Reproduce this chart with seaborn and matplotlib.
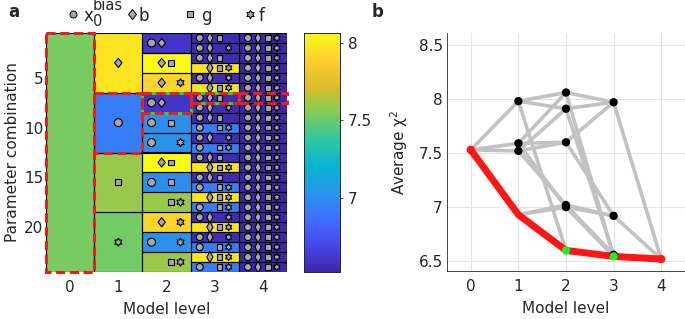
import itertools
import numpy as np
import pandas as pd
import matplotlib
matplotlib.use("Agg")
import matplotlib.pyplot as plt
import seaborn as sns
from matplotlib.colors import LinearSegmentedColormap
from matplotlib.patches import Rectangle
from matplotlib.lines import Line2D
from matplotlib.markers import MarkerStyle
from matplotlib.transforms import Affine2D

# ---------------- data ----------------
params = ["x0", "b", "g", "f"]
expand_order = ["b", "x0", "g", "f"]
level0_sets = [""]
level0_chi2 = [7.53]
level1_sets = ["x0", "b", "g", "f"]
level1_chi2 = [6.93, 7.98, 7.59, 7.52]
level2_sets = ["x0,b", "x0,g", "x0,f", "b,g", "b,f", "g,f"]
level2_chi2 = [6.60, 7.00, 7.02, 8.06, 7.91, 7.60]
level3_sets = ["x0,b,g", "x0,b,f", "x0,g,f", "b,g,f"]
level3_chi2 = [6.545, 6.56, 6.92, 7.97]
level4_sets = ["x0,b,g,f"]
level4_chi2 = [6.52]
legend_labels = ["x", "b", "g", "f"]
legend_sup = ["bias", "", "", ""]
legend_sub = ["0", "", "", ""]
level_ticks = [0, 1, 2, 3, 4]
a_yticks = [5, 10, 15, 20]
cbar_ticks = [7, 7.5, 8]
cbar_ticklabels = ["7", "7.5", "8"]
b_yticks = [6.5, 7, 7.5, 8, 8.5]
b_yticklabels = ["6.5", "7", "7.5", "8", "8.5"]

# ---------------- helpers ----------------
def key(s):
    return frozenset(s.split(",")) if s else frozenset()

chi = {}
for sets, vals in [(level0_sets, level0_chi2), (level1_sets, level1_chi2),
                   (level2_sets, level2_chi2), (level3_sets, level3_chi2),
                   (level4_sets, level4_chi2)]:
    for s, v in zip(sets, vals):
        chi[key(s)] = v

perms = list(itertools.permutations(expand_order))
M = np.array([[chi[frozenset(p[:L])] for L in range(5)] for p in perms])

# greedy best path
best = []
cur = frozenset()
for L in range(1, 5):
    cands = [p for p in params if p not in cur]
    nxt = min(cands, key=lambda p: chi[cur | {p}])
    best.append(nxt)
    cur = cur | {nxt}
best = tuple(best)

parula = LinearSegmentedColormap.from_list("parula", [
    (0.2422, 0.1504, 0.6603), (0.2803, 0.2782, 0.9221), (0.2440, 0.4358, 0.9988),
    (0.1540, 0.5902, 0.9218), (0.0297, 0.7082, 0.8163), (0.1938, 0.7758, 0.6251),
    (0.5044, 0.7993, 0.3480), (0.8634, 0.7406, 0.1596), (0.9892, 0.8136, 0.1885),
    (0.9769, 0.9839, 0.0805)])

sns.set_style("white")
plt.rcParams["font.family"] = ["DejaVu Sans"]
txt = "#262626"
FS = 11

fig = plt.figure(figsize=(6.85, 3.19), dpi=100)
W, H = 685, 319
def axbox(l, t, r, b):
    return [l / W, 1 - b / H, (r - l) / W, (b - t) / H]

axA = fig.add_axes(axbox(46, 33, 287, 272))
cax = fig.add_axes(axbox(304, 33, 340, 272))
axB = fig.add_axes(axbox(447, 33, 685, 271))

vmin, vmax = 6.52, 8.065
sns.heatmap(M, ax=axA, cmap=parula, vmin=vmin, vmax=vmax, cbar_ax=cax,
            xticklabels=False, yticklabels=False, linewidths=0)

# marker shapes
star_verts = [(np.cos(np.deg2rad(90 + 30 * i)) * (1 if i % 2 == 0 else 1 / np.sqrt(3)),
               np.sin(np.deg2rad(90 + 30 * i)) * (1 if i % 2 == 0 else 1 / np.sqrt(3)))
              for i in range(12)]
star_verts = star_verts + [star_verts[0]]
diam_wide = MarkerStyle("D", transform=Affine2D().scale(0.8, 1.0))
diam_thin = MarkerStyle("D", transform=Affine2D().scale(0.55, 1.0))
markers_big = {"x0": "o", "b": diam_wide, "g": "s", "f": star_verts}
markers_small = {"x0": "o", "b": diam_thin, "g": "s", "f": star_verts}
# marker area (pt^2) for big cells (levels 1-2) and small cells (levels 3-4)
msize = {"x0": (33, 25), "b": (22, 32), "g": (18, 17), "f": (34, 26)}
offs = {"x0": -0.31, "b": -0.1, "g": 0.1, "f": 0.29}
mk_pts = {(p, g): ([], [], []) for p in params for g in (0, 1)}
for L in range(5):
    start = 0
    while start < len(perms):
        pre = perms[start][:L]
        end = start
        while end < len(perms) and perms[end][:L] == pre:
            end += 1
        axA.add_patch(Rectangle((L, start), 1, end - start, fill=False,
                                ec="black", lw=0.8, zorder=3))
        yc = (start + end) / 2
        grp = 0 if L <= 2 else 1
        for p in pre:
            x = L + 0.5 + (offs[p] if L >= 2 else 0)
            mk_pts[(p, grp)][0].append(x)
            mk_pts[(p, grp)][1].append(yc)
            mk_pts[(p, grp)][2].append(msize[p][grp])
        start = end
for (p, grp), (xs, ys, ss) in mk_pts.items():
    if not xs:
        continue
    m = markers_big[p] if grp == 0 else markers_small[p]
    axA.scatter(xs, ys, s=ss, marker=m, c="#a8a8a8",
                edgecolors="black", linewidths=0.8, zorder=4)

# best path dashed outlines
for L in range(5):
    rows = [i for i, p in enumerate(perms) if p[:L] == best[:L]]
    r0, r1 = min(rows), max(rows) + 1
    if L in (2, 3):
        axA.add_patch(Rectangle((L, r0), 1, r1 - r0, fill=False, ec="#22dd22",
                                lw=2.2, ls=(1.5, (1.6, 2.9)), zorder=5, clip_on=False))
    axA.add_patch(Rectangle((L, r0), 1, r1 - r0, fill=False, ec="#ee1c1c",
                            lw=2.2, ls=(0, (3, 1.5)), zorder=6, clip_on=False))

axA.set_xticks([t + 0.5 for t in level_ticks])
axA.set_xticklabels([str(t) for t in level_ticks])
axA.set_yticks([t - 0.5 for t in a_yticks])
axA.set_yticklabels([str(t) for t in a_yticks])
axA.tick_params(length=0, labelsize=FS, colors=txt)
axA.tick_params(axis="x", pad=6)
axA.tick_params(axis="y", pad=2)
axA.set_xlabel("Model level", fontsize=FS, color=txt, labelpad=5)
axA.set_ylabel("Parameter combination", fontsize=FS, color=txt, labelpad=3)

cax.set_yticks(cbar_ticks)
cax.set_yticklabels(cbar_ticklabels)
cax.tick_params(length=2.5, width=0.6, labelsize=FS, colors=txt, pad=3)
for s in cax.spines.values():
    s.set_visible(True)
    s.set_color(txt)
    s.set_linewidth(0.6)

# legend row above panel a
leg_marker_x = [73, 132, 190, 250]
leg_text_x = [84, 139, 201, 259]
leg_ms = [5, 4.6, 4.3, 6]
for p, lab, sup, sub, mx, tx, ms in zip(params, legend_labels, legend_sup, legend_sub,
                                        leg_marker_x, leg_text_x, leg_ms):
    fig.add_artist(Line2D([mx / W], [1 - 14 / H], transform=fig.transFigure, ls="none",
                          marker=markers_big[p], markersize=ms, markerfacecolor="#a8a8a8",
                          markeredgecolor="black", markeredgewidth=0.7))
    fig.text(tx / W, 1 - 16 / H, lab, fontsize=12, color=txt, va="center", ha="left")
    if sup:
        fig.text((tx + 9) / W, 1 - 6 / H, sup, fontsize=10.5, color=txt, va="center", ha="left")
    if sub:
        fig.text((tx + 9) / W, 1 - 21 / H, sub, fontsize=10.5, color=txt, va="center", ha="left")

# ---------------- panel b ----------------
nodes = []
for L in range(5):
    for k, v in chi.items():
        if len(k) == L:
            nodes.append((L, k, v))
edge_rows = []
eid = 0
for (L1, k1, v1) in nodes:
    for (L2, k2, v2) in nodes:
        if L2 == L1 + 1 and k1 < k2:
            edge_rows.append({"edge": eid, "level": L1, "chi2": v1})
            edge_rows.append({"edge": eid, "level": L2, "chi2": v2})
            eid += 1
edges = pd.DataFrame(edge_rows)
sns.lineplot(data=edges, x="level", y="chi2", units="edge", estimator=None,
             sort=False, color="#c2c2c2", lw=2.6, ax=axB, zorder=2)

best_df = pd.DataFrame({"level": list(range(5)),
                        "chi2": [chi[frozenset(best[:L])] for L in range(5)]})
sns.lineplot(data=best_df, x="level", y="chi2", color="#ff1515", lw=5, ax=axB,
             zorder=3, solid_capstyle="round")

node_df = pd.DataFrame([{"level": L, "chi2": v,
                         "kind": ("best" if k == frozenset(best[:L]) else "other")}
                        for (L, k, v) in nodes])
others = node_df[node_df.kind == "other"]
sns.scatterplot(data=others, x="level", y="chi2", color="black", s=36,
                edgecolor="none", ax=axB, zorder=4)
bn = node_df[(node_df.kind == "best") & node_df.level.isin([2, 3])]
sns.scatterplot(data=bn, x="level", y="chi2", color="#22ee22", s=36,
                edgecolor="none", ax=axB, zorder=5)
en = node_df[(node_df.kind == "best") & node_df.level.isin([0, 4])]
sns.scatterplot(data=en, x="level", y="chi2", color="#ff1515", s=36,
                edgecolor="none", ax=axB, zorder=5)

axB.set_xlim(-0.5, 4.5)
axB.set_ylim(6.41, 8.61)
axB.set_xticks(level_ticks)
axB.set_xticklabels([str(t) for t in level_ticks])
axB.set_yticks(b_yticks)
axB.set_yticklabels(b_yticklabels)
axB.grid(True, color="#e4e4e4", lw=0.8)
axB.set_axisbelow(True)
for s in ["top", "right"]:
    axB.spines[s].set_visible(False)
for s in ["left", "bottom"]:
    axB.spines[s].set_color(txt)
    axB.spines[s].set_linewidth(0.6)
axB.tick_params(length=0, labelsize=FS, colors=txt)
axB.tick_params(axis="x", pad=6)
axB.tick_params(axis="y", pad=3)
axB.set_xlabel("Model level", fontsize=FS, color=txt, labelpad=5)
axB.set_ylabel(r"Average $\mathregular{\chi^2}$", fontsize=FS, color=txt, labelpad=6)

fig.text(8 / W, 1 - 12 / H, "a", fontsize=12, fontweight="bold", va="center", ha="left")
fig.text(372 / W, 1 - 12 / H, "b", fontsize=12, fontweight="bold", va="center", ha="left")

fig.savefig("out.png", dpi=100)
